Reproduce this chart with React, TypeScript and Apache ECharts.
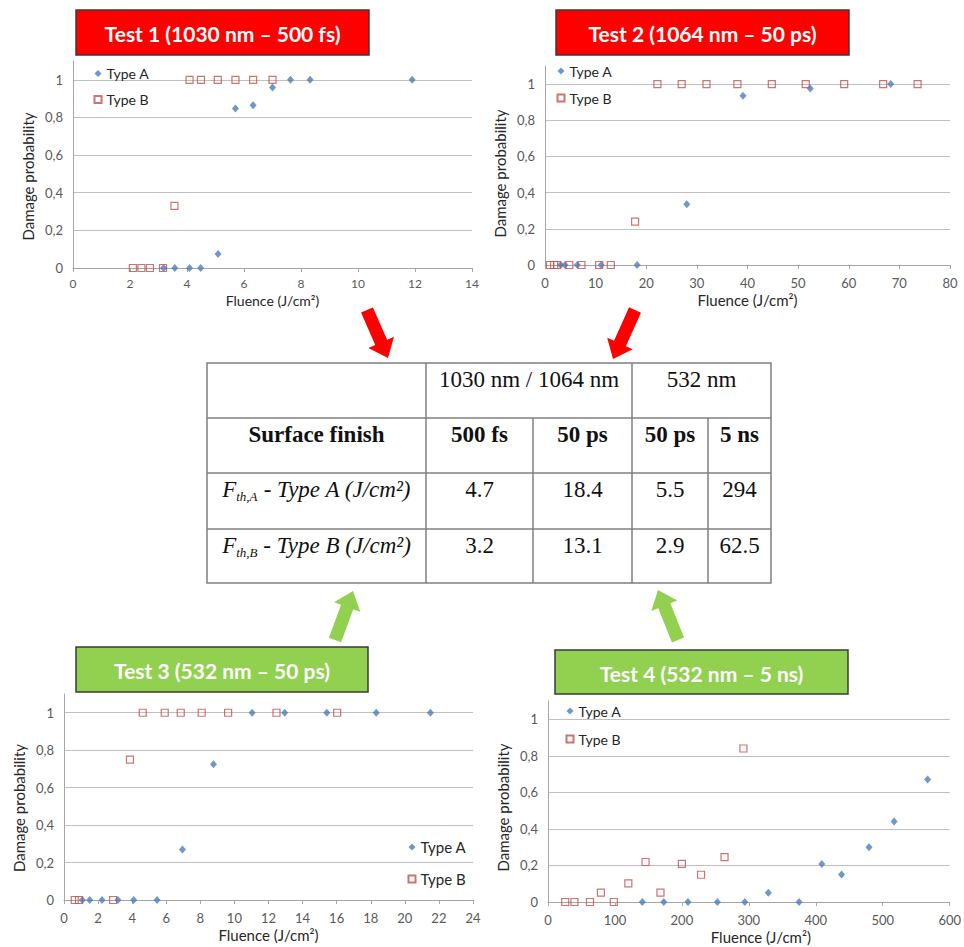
import React, { useEffect, useRef } from "react";
import * as echarts from "echarts";

// ---------- data ----------
const test1A = [[3.18, 0], [3.57, 0], [4.09, 0], [4.48, 0], [5.09, 0.075], [5.7, 0.847], [6.32, 0.865], [7.0, 0.959], [7.63, 1], [8.32, 1], [11.9, 1]];
const test1B = [[2.1, 0], [2.4, 0], [2.7, 0], [3.16, 0], [3.56, 0.33], [4.09, 1], [4.49, 1], [5.08, 1], [5.7, 1], [6.32, 1], [7.0, 1]];
const test2A = [[3.1, 0], [3.95, 0], [6.4, 0], [11.1, 0], [18.2, 0], [28.0, 0.336], [39.1, 0.935], [52.4, 0.976], [68.3, 1]];
const test2B = [[1.0, 0], [1.8, 0], [2.4, 0], [4.8, 0], [7.2, 0], [10.7, 0], [13.0, 0], [17.8, 0.24], [22.2, 1], [27.0, 1], [31.9, 1], [38.0, 1], [44.8, 1], [51.5, 1], [59.1, 1], [66.8, 1], [73.6, 1]];
const test3A = [[1.08, 0], [1.51, 0], [2.23, 0], [3.17, 0], [4.09, 0], [5.46, 0], [6.95, 0.27], [8.77, 0.725], [11.04, 1], [12.95, 1], [15.42, 1], [18.32, 1], [21.5, 1]];
const test3B = [[0.63, 0], [0.88, 0], [2.88, 0], [3.87, 0.75], [4.62, 1], [5.91, 1], [6.85, 1], [8.08, 1], [9.63, 1], [12.47, 1], [16.03, 1]];
const test4A = [[141, 0], [173, 0], [209, 0], [253, 0], [294, 0], [329, 0.051], [375, 0], [409, 0.208], [438.5, 0.151], [479.5, 0.3], [517, 0.44], [567, 0.67]];
const test4B = [[25.7, 0], [39.5, 0], [62.7, 0], [79, 0.051], [98.3, 0], [120, 0.102], [145.7, 0.219], [168, 0.051], [200, 0.209], [228.6, 0.149], [263.7, 0.246], [291.9, 0.84]];

const xMax = [14, 80, 24, 600];
const xInterval = [2, 10, 2, 100];
const testTitles = ["Test 1 (1030 nm – 500 fs)", "Test 2 (1064 nm – 50 ps)", "Test 3 (532 nm – 50 ps)", "Test 4 (532 nm – 5 ns)"];
const seriesNames = ["Type A", "Type B"];

const tableTop = ["1030 nm / 1064 nm", "532 nm"];
const tableHead = ["Surface finish", "500 fs", "50 ps", "50 ps", "5 ns"];
const rowLabelA = "{i|F}{s|th,A}{i| - Type A (J/cm²)}";
const rowLabelB = "{i|F}{s|th,B}{i| - Type B (J/cm²)}";
const thresholdA = ["4.7", "18.4", "5.5", "294"];
const thresholdB = ["3.2", "13.1", "2.9", "62.5"];

// ---------- layout ----------
const grids = [
  { left: 73, top: 61, width: 399, height: 207 },
  { left: 545, top: 66, width: 405, height: 199 },
  { left: 64, top: 694, width: 409, height: 206 },
  { left: 548, top: 701, width: 405, height: 201 },
];
const xLabelSize = [12, 13, 13, 13];
const xLabelMargin = [9, 11, 11, 11];
const xNameSize = [14, 15, 15, 15];
const xNameGap = [25, 27, 27, 27];
const xNamePad = [[0, 0, 0, 0], [0, 0, 0, 0], [0, 0, 0, 0], [0, 0, 0, 24]];
const yNameShift = [12, 8, 11, 6];
const legends = [
  { left: 93.5, top: 66.5, itemGap: 12, fontSize: 14 },
  { left: 556.5, top: 64, itemGap: 13, fontSize: 14 },
  { left: 407.5, top: 839.5, itemGap: 17, fontSize: 15 },
  { left: 565.5, top: 704, itemGap: 14, fontSize: 14 },
];
const boxes = [
  { x: 76, y: 10, w: 293, h: 45, fill: "#ff0000" },
  { x: 556, y: 10, w: 293, h: 45, fill: "#ff0000" },
  { x: 76, y: 647, w: 292, h: 45, fill: "#92d050" },
  { x: 555, y: 650, w: 293, h: 44, fill: "#92d050" },
];
const arrows = [
  { from: [367, 310], to: [388, 358], fill: "#ff0000" },
  { from: [635, 310], to: [613, 359], fill: "#ff0000" },
  { from: [335, 640], to: [353, 591], fill: "#92d050" },
  { from: [678, 640], to: [658, 590], fill: "#92d050" },
];
const colX = [207, 426, 533, 632, 708, 771];
const rowY = [363, 418, 473, 529, 583];

const FONT = "Lato";
const SERIF = "Liberation Serif";
const BLUE = "#4a7ebb";
const RED = "#c0504d";

function arrowPoints(from: number[], to: number[]) {
  const dx = to[0] - from[0];
  const dy = to[1] - from[1];
  const len = Math.sqrt(dx * dx + dy * dy);
  const ux = dx / len, uy = dy / len;
  const nx = -uy, ny = ux;
  const w = 6.5, hw = 14, hl = 17;
  const bx = to[0] - ux * hl, by = to[1] - uy * hl;
  return [
    [from[0] + nx * w, from[1] + ny * w],
    [bx + nx * w, by + ny * w],
    [bx + nx * hw, by + ny * hw],
    [to[0], to[1]],
    [bx - nx * hw, by - ny * hw],
    [bx - nx * w, by - ny * w],
    [from[0] - nx * w, from[1] - ny * w],
  ];
}

function buildGraphic() {
  const els: any[] = [];
  boxes.forEach((b, i) => {
    els.push({ type: "rect", shape: { x: b.x, y: b.y, width: b.w, height: b.h }, style: { fill: b.fill, stroke: "#3a3a3a", lineWidth: 1.5 } });
    els.push({ type: "text", x: b.x + b.w / 2, y: b.y + b.h / 2 + 1, style: { text: testTitles[i], fill: "#ffffff", fontSize: 21, fontWeight: "bold", fontFamily: FONT, align: "center", verticalAlign: "middle" } });
  });
  arrows.forEach((a) => {
    els.push({ type: "polygon", shape: { points: arrowPoints(a.from, a.to) }, style: { fill: a.fill } });
  });
  // table
  const stroke = "#7f7f7f";
  const L = colX[0], R = colX[colX.length - 1], T = rowY[0], B = rowY[rowY.length - 1];
  els.push({ type: "rect", shape: { x: L, y: T, width: R - L, height: B - T }, style: { fill: "#ffffff", stroke, lineWidth: 1.5 } });
  for (let r = 1; r < rowY.length - 1; r++) {
    els.push({ type: "line", shape: { x1: L, y1: rowY[r], x2: R, y2: rowY[r] }, style: { stroke, lineWidth: 1.5 } });
  }
  [1, 3].forEach((c) => els.push({ type: "line", shape: { x1: colX[c], y1: T, x2: colX[c], y2: B }, style: { stroke, lineWidth: 1.5 } }));
  [2, 4].forEach((c) => els.push({ type: "line", shape: { x1: colX[c], y1: rowY[1], x2: colX[c], y2: B }, style: { stroke, lineWidth: 1.5 } }));
  const cellText = (text: string, cx: number, cy: number, bold: boolean) => ({
    type: "text", x: cx, y: cy,
    style: { text, fill: "#111", fontSize: 23, fontFamily: SERIF, fontWeight: bold ? "bold" : "normal", align: "center", verticalAlign: "middle" },
  });
  const mid = (a: number, b: number) => (a + b) / 2;
  els.push(cellText(tableTop[0], mid(colX[1], colX[3]), rowY[0] + 16, false));
  els.push(cellText(tableTop[1], mid(colX[3], colX[5]), rowY[0] + 16, false));
  tableHead.forEach((t, c) => els.push(cellText(t, mid(colX[c], colX[c + 1]), rowY[1] + 16, true)));
  const rich = {
    i: { fontSize: 23, fontStyle: "italic", fontFamily: SERIF, fill: "#111" },
    s: { fontSize: 13, fontStyle: "italic", fontFamily: SERIF, fill: "#111", padding: [14, 0, 0, 0] },
  };
  [rowLabelA, rowLabelB].forEach((t, r) => {
    els.push({ type: "text", x: mid(colX[0], colX[1]), y: rowY[r + 2] + 16, style: { text: t, rich, align: "center", verticalAlign: "middle" } });
  });
  thresholdA.forEach((t, c) => els.push(cellText(t, mid(colX[c + 1], colX[c + 2]), rowY[2] + 16, false)));
  thresholdB.forEach((t, c) => els.push(cellText(t, mid(colX[c + 1], colX[c + 2]), rowY[3] + 16, false)));
  return els;
}

export default function App() {
  const ref = useRef<HTMLDivElement>(null);
  useEffect(() => {
    if (!ref.current) return;
    const chart = echarts.init(ref.current, undefined, { renderer: "svg" });
    const data = [[test1A, test1B], [test2A, test2B], [test3A, test3B], [test4A, test4B]];
    const axisColor = "#a6a6a6";
    const option: any = {
      animation: false,
      backgroundColor: "#ffffff",
      textStyle: { fontFamily: FONT },
      grid: grids.map((g) => ({ ...g, containLabel: false })),
      xAxis: grids.map((_, i) => ({
        type: "value", gridIndex: i, min: 0, max: xMax[i], interval: xInterval[i],
        name: "Fluence (J/cm²)", nameLocation: "middle", nameGap: xNameGap[i],
        nameTextStyle: { fontSize: xNameSize[i], color: "#262626", fontFamily: FONT, padding: xNamePad[i] },
        axisLine: { show: true, lineStyle: { color: axisColor, width: 1 } },
        axisTick: { show: true, length: 4, lineStyle: { color: axisColor } },
        axisLabel: { fontSize: xLabelSize[i], color: "#595959", margin: xLabelMargin[i], fontFamily: FONT },
        splitLine: { show: false },
      })),
      yAxis: grids.map((_, i) => ({
        type: "value", gridIndex: i, min: 0, max: 1.1, interval: 0.2,
        name: "Damage probability", nameLocation: "middle", nameGap: 38,
        nameTextStyle: { fontSize: 15, color: "#262626", fontFamily: FONT, padding: [0, yNameShift[i] * 2, 0, 0] },
        axisLine: { show: true, lineStyle: { color: axisColor, width: 1 } },
        axisTick: { show: false },
        axisLabel: {
          fontSize: 13, color: "#595959", margin: 10, fontFamily: FONT, showMaxLabel: false,
          formatter: (v: number) => String(Math.round(v * 10) / 10).replace(".", ","),
        },
        splitLine: { show: true, showMaxLine: false, lineStyle: { color: "#bfbfbf", width: 1 } },
      })),
      legend: legends.map((l) => ({
        left: l.left, top: l.top, orient: "vertical", padding: 0, itemGap: l.itemGap,
        itemWidth: 7, itemHeight: 7, selectedMode: false, data: seriesNames,
        textStyle: { fontSize: l.fontSize, color: "#262626", fontFamily: FONT },
      })),
      series: data.flatMap((pair, i) => [
        {
          type: "scatter", name: seriesNames[0], xAxisIndex: i, yAxisIndex: i, data: pair[0],
          symbol: "diamond", symbolSize: [7, 8], itemStyle: { color: BLUE },
        },
        {
          type: "scatter", name: seriesNames[1], xAxisIndex: i, yAxisIndex: i, data: pair[1],
          symbol: "rect", symbolSize: 7, itemStyle: { color: "rgba(255,255,255,0)", borderColor: RED, borderWidth: 1.2 },
        },
      ]),
      graphic: buildGraphic(),
    };
    chart.setOption(option);
    return () => chart.dispose();
  }, []);
  return <div ref={ref} style={{ position: "absolute", left: 0, top: 0, width: 964, height: 947 }} />;
}
